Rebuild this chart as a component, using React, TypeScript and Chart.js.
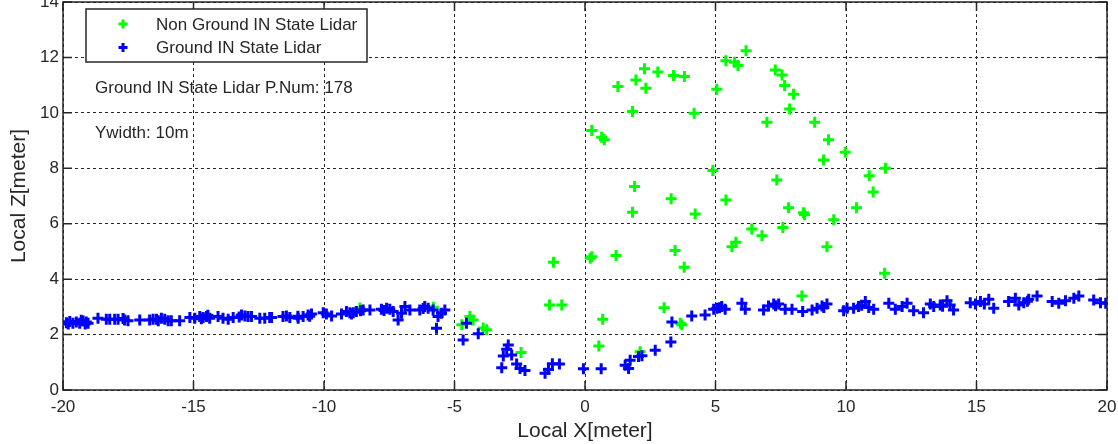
import { useEffect, useRef } from "react";
import { Chart, registerables } from "chart.js";

Chart.register(...registerables);

// Axis ticks
const xTicks = [-20, -15, -10, -5, 0, 5, 10, 15, 20];
const yTicks = [0, 2, 4, 6, 8, 10, 12, 14];

// Non-ground lidar returns (X, Z in meters)
const nonGroundX = [
  -8.62, -5.81, -4.72, -4.41, -4.29, -3.9, -3.77, -2.45, -1.36, -0.89,
  0.68, 0.53, 2.11, 3.03, 3.65, 3.71, -1.21, 0.2, 0.26, 1.19,
  3.45, 3.8, 1.9, 1.82, 3.3, 4.22, 4.9, 5.4, 5.63, 5.78,
  0.26, 0.64, 0.74, 1.26, 1.82, 1.95, 2.28, 2.33, 2.79, 3.39,
  3.81, 4.18, 5.05, 5.4, 5.73, 5.86, 6.17, 7.29, 7.55, 7.65,
  7.99, 7.84, 6.97, 8.8, 9.33, 9.14, 9.97, 7.35, 10.89, 11.51,
  11.04, 7.8, 8.37, 8.41, 10.4, 9.53, 7.58, 6.39, 6.78, 9.27,
  11.48, 8.31,
];
const nonGroundZ = [
  2.96, 2.99, 2.35, 2.65, 2.53, 2.24, 2.17, 1.35, 3.07, 3.07,
  2.55, 1.59, 1.38, 2.97, 2.41, 2.35, 4.61, 4.75, 4.81, 4.85,
  5.03, 4.43, 7.34, 6.41, 6.9, 6.35, 7.92, 6.86, 5.17, 5.33,
  9.36, 9.12, 9.03, 10.95, 10.05, 11.19, 11.59, 10.89, 11.47, 11.35,
  11.31, 9.99, 10.85, 11.88, 11.83, 11.71, 12.24, 11.55, 11.37, 10.99,
  10.67, 10.14, 9.66, 9.66, 9.03, 8.3, 8.58, 7.58, 7.73, 8.0,
  7.14, 6.58, 6.4, 6.32, 6.58, 6.14, 5.86, 5.81, 5.57, 5.17,
  4.21, 3.39,
];

// Ground lidar returns (X, Z in meters)
const groundX = [
  -19.87, -19.74, -19.62, -19.49, -19.36, -19.23, -19.11, -19.04, -18.66, -18.34,
  -18.21, -18.02, -17.89, -17.64, -17.51, -17.06, -16.68, -16.55, -16.42, -16.23,
  -16.1, -15.97, -15.85, -15.53, -15.14, -14.95, -14.76, -14.63, -14.5, -14.38,
  -14.06, -13.87, -13.67, -13.48, -13.16, -13.03, -12.91, -12.78, -12.46, -12.27,
  -12.08, -12.01, -11.57, -11.44, -11.31, -10.99, -10.8, -10.61, -10.48, -10.03,
  -9.91, -9.71, -9.33, -9.14, -9.01, -8.88, -8.76, -8.5, -8.24, -7.8,
  -7.6, -7.48, -7.35, -7.16, -7.03, -6.9, -6.71, -6.33, -6.14, -6.01,
  -5.82, -5.63, -5.69, -5.5, -5.37, -4.67, -4.54, -4.09, -2.94, -3.0,
  -3.13, -2.81, -3.19, -2.62, -2.49, -2.3, -1.53, -1.4, -1.25, -0.98,
  -0.06, 0.62, 1.54, 1.67, 1.73, 2.05, 2.18, 2.69, 3.29, 3.33,
  4.09, 4.6, 4.93, 5.05, 5.24, 5.37, 6.01, 6.14, 6.84, 7.03,
  7.23, 7.42, 7.67, 7.93, 8.34, 8.7, 8.89, 9.08, 9.27, 9.91,
  10.04, 10.29, 10.48, 10.74, 10.87, 11.06, 11.64, 11.89, 12.15, 12.34,
  12.59, 12.97, 13.23, 13.36, 13.61, 13.87, 13.99, 14.12, 14.76, 14.96,
  15.15, 15.47, 15.66, 16.23, 16.49, 16.62, 16.81, 17.0, 17.32, 17.9,
  18.15, 18.41, 18.73, 18.92, 19.49, 19.75, 19.95, -19.8, -19.3, -19.15,
  -17.7, -16.35, -14.7, -14.45, -13.25, -11.0, -10.55, -8.95, -8.6, -7.7,
  -6.2, 5.15, 7.3, 9.15, 10.6, 13.7, 15.3, 16.95,
];
const groundZ = [
  2.43, 2.47, 2.41, 2.45, 2.41, 2.49, 2.45, 2.41, 2.59, 2.55,
  2.55, 2.55, 2.55, 2.53, 2.5, 2.53, 2.53, 2.55, 2.55, 2.59,
  2.55, 2.5, 2.5, 2.5, 2.62, 2.59, 2.65, 2.62, 2.65, 2.59,
  2.65, 2.59, 2.55, 2.62, 2.71, 2.67, 2.65, 2.65, 2.59, 2.59,
  2.62, 2.62, 2.65, 2.67, 2.62, 2.59, 2.65, 2.71, 2.74, 2.79,
  2.74, 2.67, 2.74, 2.83, 2.79, 2.79, 2.83, 2.89, 2.89, 2.91,
  2.95, 2.91, 2.83, 2.53, 2.77, 3.01, 2.89, 2.89, 3.01, 2.95,
  2.89, 2.65, 2.23, 2.77, 2.89, 1.8, 2.41, 2.03, 1.62, 1.47,
  1.23, 1.26, 0.8, 0.94, 0.78, 0.7, 0.6, 0.74, 0.95, 0.94,
  0.77, 0.77, 0.89, 0.78, 1.07, 1.21, 1.24, 1.43, 1.73, 2.45,
  2.67, 2.71, 2.91, 2.95, 3.01, 2.91, 3.13, 2.91, 2.89, 3.03,
  3.1, 3.1, 2.91, 2.91, 2.83, 2.89, 2.95, 3.03, 3.1, 2.86,
  2.95, 2.95, 3.01, 3.19, 2.98, 2.91, 3.13, 2.91, 3.01, 3.13,
  2.86, 2.79, 3.1, 3.01, 3.07, 3.22, 3.07, 2.89, 3.15, 3.1,
  3.19, 3.27, 2.95, 3.19, 3.31, 3.07, 3.15, 3.27, 3.39, 3.19,
  3.13, 3.22, 3.31, 3.39, 3.25, 3.15, 3.13, 2.38, 2.52, 2.38,
  2.58, 2.5, 2.57, 2.7, 2.63, 2.66, 2.66, 2.74, 2.86, 2.87,
  2.94, 2.97, 3.04, 2.98, 3.06, 3.02, 3.1, 3.2,
];

const legendLabels = ["Non Ground IN State Lidar", "Ground IN State Lidar"];
const seriesColors = ["#00ff00", "#0000ff"];
const infoLines = ["Ground IN State Lidar P.Num: 178", "Ywidth: 10m"];

const FONT = '"Liberation Sans", Arial, sans-serif';
const INK = "#262626";

const toPoints = (xs: number[], zs: number[]) => xs.map((x, i) => ({ x, y: zs[i] }));

const noPadding = () => ({ left: 0, top: 0, right: 0, bottom: 0 });

function drawCross(ctx: CanvasRenderingContext2D, x: number, y: number, r: number, color: string) {
  ctx.save();
  ctx.strokeStyle = color;
  ctx.lineWidth = 3;
  ctx.beginPath();
  ctx.moveTo(x - r, y);
  ctx.lineTo(x + r, y);
  ctx.moveTo(x, y - r);
  ctx.lineTo(x, y + r);
  ctx.stroke();
  ctx.restore();
}

// Box frame, inward tick marks, legend and info text
const overlayPlugin = {
  id: "overlay",
  afterDatasetsDraw(chart: any) {
    const { ctx, chartArea, scales } = chart;
    const { left, right, top, bottom } = chartArea;
    const tickLen = 9;
    ctx.save();
    ctx.strokeStyle = INK;
    ctx.lineWidth = 1.5;
    ctx.beginPath();
    xTicks.forEach((v) => {
      const px = scales.x.getPixelForValue(v);
      ctx.moveTo(px, bottom);
      ctx.lineTo(px, bottom - tickLen);
      ctx.moveTo(px, top);
      ctx.lineTo(px, top + tickLen);
    });
    yTicks.forEach((v) => {
      const py = scales.y.getPixelForValue(v);
      ctx.moveTo(left, py);
      ctx.lineTo(left + tickLen, py);
      ctx.moveTo(right, py);
      ctx.lineTo(right - tickLen, py);
    });
    ctx.stroke();
    ctx.strokeRect(left, top, right - left, bottom - top);

    // legend
    const bx = left + 23;
    const by = top + 7;
    const bw = 281;
    const bh = 53;
    ctx.fillStyle = "#ffffff";
    ctx.fillRect(bx, by, bw, bh);
    ctx.lineWidth = 1.5;
    ctx.strokeStyle = INK;
    ctx.strokeRect(bx, by, bw, bh);
    ctx.font = `17px ${FONT}`;
    ctx.textBaseline = "middle";
    ctx.textAlign = "left";
    legendLabels.forEach((label, i) => {
      const cy = by + 15 + i * 23.5;
      drawCross(ctx, bx + 37, cy, 4.5, seriesColors[i]);
      ctx.fillStyle = INK;
      ctx.fillText(label, bx + 70, cy + 1);
    });

    // info text
    ctx.fillStyle = INK;
    infoLines.forEach((line, i) => {
      ctx.fillText(line, left + 32, top + 86 + i * 45);
    });
    ctx.restore();
  },
};

export default function App() {
  const canvasRef = useRef<HTMLCanvasElement | null>(null);

  useEffect(() => {
    document.body.style.margin = "0";
    const canvas = canvasRef.current;
    if (!canvas) return;
    const chart = new Chart(canvas, {
      type: "scatter",
      data: {
        datasets: [
          {
            label: legendLabels[0],
            data: toPoints(nonGroundX, nonGroundZ),
            pointStyle: "cross",
            pointRadius: 5.5,
            pointBorderWidth: 3,
            borderColor: seriesColors[0],
            backgroundColor: seriesColors[0],
            order: 1,
          },
          {
            label: legendLabels[1],
            data: toPoints(groundX, groundZ),
            pointStyle: "cross",
            pointRadius: 5.5,
            pointBorderWidth: 3,
            borderColor: seriesColors[1],
            backgroundColor: seriesColors[1],
            order: 0,
          },
        ],
      },
      options: {
        responsive: false,
        animation: false,
        events: [],
        layout: { autoPadding: false, padding: { top: 2, right: 11, left: 0, bottom: 0 } },
        plugins: {
          legend: { display: false },
          tooltip: { enabled: false },
        },
        scales: {
          x: {
            type: "linear",
            min: xTicks[0],
            max: xTicks[xTicks.length - 1],
            afterBuildTicks: (scale: any) => {
              scale.ticks = xTicks.map((value) => ({ value }));
            },
            afterFit: (scale: any) => {
              scale.height = 54;
              scale.paddingLeft = 0;
              scale.paddingRight = 0;
              scale.getPadding = noPadding;
            },
            grid: { color: INK, lineWidth: 1, drawTicks: false },
            border: { display: false, dash: [3, 3] },
            ticks: {
              color: INK,
              font: { family: FONT, size: 17 },
              padding: 7,
              maxRotation: 0,
              autoSkip: false,
            },
            title: {
              display: true,
              text: "Local X[meter]",
              color: INK,
              font: { family: FONT, size: 21, lineHeight: 1.2 },
              padding: { top: 0, bottom: 0 },
            },
          },
          y: {
            type: "linear",
            min: yTicks[0],
            max: yTicks[yTicks.length - 1],
            afterBuildTicks: (scale: any) => {
              scale.ticks = yTicks.map((value) => ({ value }));
            },
            afterFit: (scale: any) => {
              scale.width = 63;
              scale.paddingTop = 0;
              scale.paddingBottom = 0;
              scale.getPadding = noPadding;
            },
            grid: { color: INK, lineWidth: 1, drawTicks: false },
            border: { display: false, dash: [3, 3] },
            ticks: {
              color: INK,
              font: { family: FONT, size: 17 },
              padding: 4,
              autoSkip: false,
            },
            title: {
              display: true,
              text: "Local Z[meter]",
              color: INK,
              font: { family: FONT, size: 21, lineHeight: 1.2 },
              padding: { top: 7, bottom: 0 },
            },
          },
        },
      },
      plugins: [overlayPlugin],
    });
    return () => chart.destroy();
  }, []);

  return <canvas ref={canvasRef} width={1118} height={444} />;
}
